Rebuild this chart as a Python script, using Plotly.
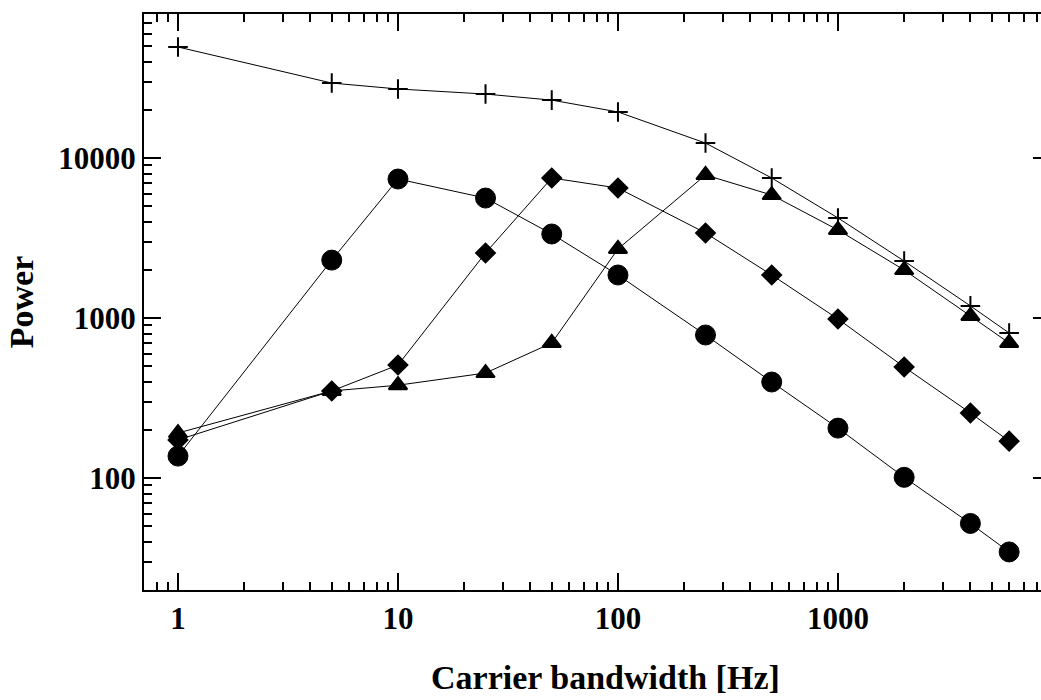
import plotly.graph_objects as go

bandwidth = [1, 5, 10, 25, 50, 100, 250, 500, 1000, 2000, 4000, 6000]
power_cross = [49400, 29400, 27000, 25100, 23000, 19400, 12400, 7500, 4220, 2270, 1190, 806]
power_circle = [137, 2300, 7390, 5620, 3350, 1857, 783, 398, 205, 101, 52, 34.5]
power_diamond = [173, 350, 508, 2550, 7500, 6490, 3400, 1857, 986, 494, 255, 170]
power_triangle = [191, 350, 380, 453, 698, 2700, 7830, 5870, 3550, 1995, 1030, 698]

x_ticks = [1, 10, 100, 1000]
x_ticktext = ["1", "10", "100", "1000"]
y_ticks = [100, 1000, 10000]
y_ticktext = ["100", "1000", "10000"]

FONT = "Liberation Serif"

fig = go.Figure()
series = [
    (power_cross, "cross-thin", 14, 2),
    (power_triangle, "triangle-up", 16, 2),
    (power_diamond, "diamond", 15, 1.5),
    (power_circle, "circle", 20, 1),
]
for vals, sym, size, lw in series:
    fig.add_trace(go.Scatter(
        x=bandwidth, y=vals, mode="lines+markers",
        line=dict(color="black", width=1),
        marker=dict(symbol=sym, size=size, color="black",
                    line=dict(color="black", width=lw)),
        showlegend=False,
    ))

# right-side short ticks (axis line lies just outside the picture)
fig.add_trace(go.Scatter(x=[None], y=[None], yaxis="y2", showlegend=False))

yrange = [1.3, 4.9]
minor_style = dict(ticks="inside", ticklen=8, tickwidth=2, tickcolor="black",
                   showgrid=False, dtick="D1")
fig.update_layout(
    width=1041, height=700,
    margin=dict(l=144, r=0, t=14, b=110),
    paper_bgcolor="white", plot_bgcolor="white",
    font=dict(family=FONT, size=31, color="black"),
    xaxis=dict(
        type="log", range=[-0.1545, 3.923],
        tickvals=x_ticks, ticktext=x_ticktext,
        ticks="inside", ticklen=17, tickwidth=2, tickcolor="black",
        showline=True, linewidth=2, linecolor="black", mirror="ticks",
        showgrid=False, zeroline=False,
        tickfont=dict(family=FONT, size=31, color="black", weight="bold"),
        minor=minor_style,
    ),
    yaxis=dict(
        type="log", range=yrange,
        tickvals=y_ticks, ticktext=y_ticktext,
        ticks="inside", ticklen=17, tickwidth=2, tickcolor="black",
        showline=True, linewidth=2, linecolor="black", mirror=False,
        showgrid=False, zeroline=False,
        tickfont=dict(family=FONT, size=31, color="black", weight="bold"),
        minor=minor_style,
        title=dict(text="<b>Power</b>", standoff=14,
                   font=dict(family=FONT, size=34, color="black")),
    ),
    yaxis2=dict(
        type="log", range=yrange, overlaying="y", side="right",
        tickvals=y_ticks, showticklabels=False,
        ticks="inside", ticklen=8, tickwidth=2, tickcolor="black",
        showline=False, showgrid=False, zeroline=False,
    ),
    annotations=[dict(
        text="<b>Carrier bandwidth [Hz]</b>", xref="paper", yref="paper",
        x=0.515, y=-0.152, xanchor="center", yanchor="middle", showarrow=False,
        font=dict(family=FONT, size=34, color="black"),
    )],
)

fig.write_html("out.html")
